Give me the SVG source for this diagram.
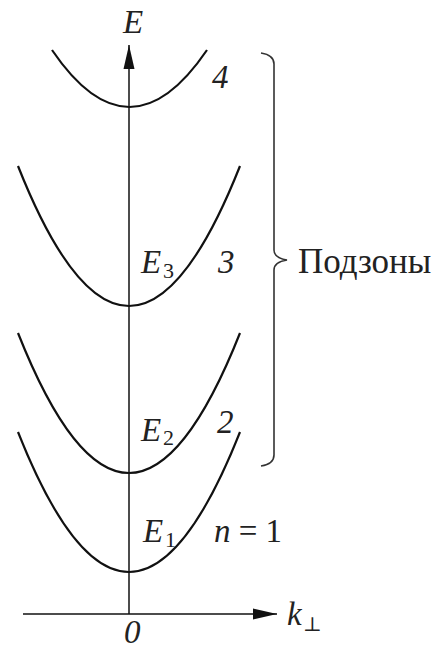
<svg xmlns="http://www.w3.org/2000/svg" width="443" height="651" viewBox="0 0 443 651">
<defs>
<marker id="arr" markerWidth="26" markerHeight="12" refX="24" refY="6" orient="auto" markerUnits="userSpaceOnUse">
<path d="M0,0.5 L24,6 L0,11.5 Z" fill="#111"/>
</marker>
</defs>
<rect width="443" height="651" fill="#fff"/>
<g id="axes" fill="none" stroke="#111" stroke-width="1.5">
<line x1="129" y1="614" x2="129" y2="45" marker-end="url(#arr)"/>
<line x1="23" y1="614" x2="277" y2="614" marker-end="url(#arr)"/>
</g>
<g id="bands" fill="none" stroke="#111" stroke-width="2.2">
<g id="band4"><path d="M52,50 Q129.5,164 207,50"/></g>
<g id="band3"><path d="M18,166 Q129,446 240,166"/></g>
<g id="band2"><path d="M18,333 Q129,613 240,333"/></g>
<g id="band1"><path d="M18,432 Q129,712 240,432"/></g>
</g>
<g id="brace"><path fill="none" stroke="#333" stroke-width="1.6" d="M261,53 Q274,55 274,64 L274,250 Q274,258 287,260 Q274,262 274,270 L274,455 Q274,464 261,466"/></g>
<g id="labels" fill="#222">
<text style="font-family:'Liberation Serif',serif;font-size:33px;font-style:italic" x="123" y="33">E</text>
<text style="font-family:'Liberation Serif',serif;font-size:33px;font-style:italic" x="212" y="88">4</text>
<text style="font-family:'Liberation Serif',serif;font-size:33px;font-style:italic" x="141" y="273">E</text>
<text style="font-family:'Liberation Serif',serif;font-size:22px" x="163" y="278">3</text>
<text style="font-family:'Liberation Serif',serif;font-size:33px;font-style:italic" x="218" y="273">3</text>
<text style="font-family:'Liberation Serif',serif;font-size:33px;font-style:italic" x="141" y="441">E</text>
<text style="font-family:'Liberation Serif',serif;font-size:22px" x="163" y="445">2</text>
<text style="font-family:'Liberation Serif',serif;font-size:33px;font-style:italic" x="217" y="433">2</text>
<text style="font-family:'Liberation Serif',serif;font-size:33px;font-style:italic" x="143" y="542">E</text>
<text style="font-family:'Liberation Serif',serif;font-size:22px" x="165" y="547">1</text>
<text style="font-family:'Liberation Serif',serif;font-size:33px" x="214" y="542"><tspan style="font-style:italic">n</tspan> = 1</text>
<text style="font-family:'Liberation Serif',serif;font-size:33px;font-style:italic" x="287" y="625">k</text>
<text style="font-family:'DejaVu Serif',serif;font-size:20px" x="303" y="631">⊥</text>
<text style="font-family:'Liberation Serif',serif;font-size:33px;font-style:italic" x="124" y="643">0</text>
<text style="font-family:'Liberation Serif',serif;font-size:35px" x="298" y="273">Подзоны</text>
</g>
</svg>
